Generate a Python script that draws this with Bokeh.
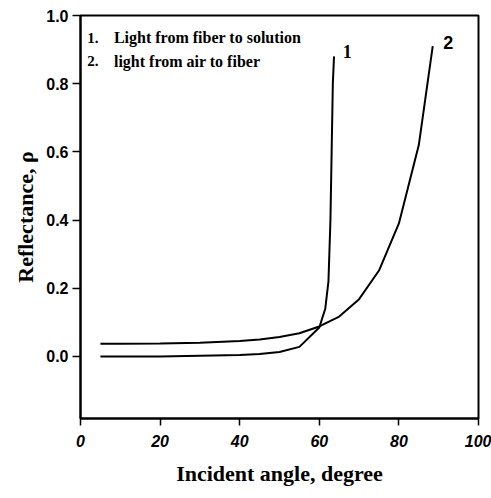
from bokeh.plotting import figure
from bokeh.models import Range1d, FixedTicker
from bokeh.core.properties import value
from bokeh.embed import file_html
from bokeh.resources import INLINE

# Curve 1: light from fiber to solution
angle_1 = [5, 10, 20, 30, 40, 45, 50, 55, 60, 61.5, 62.3, 62.8, 63.1, 63.4, 63.7]
refl_1 = [0.0, 0.0, 0.0, 0.002, 0.004, 0.007, 0.013, 0.028, 0.085, 0.14, 0.22, 0.40, 0.60, 0.80, 0.88]

# Curve 2: light from air to fiber
angle_2 = [5, 10, 20, 30, 40, 45, 50, 55, 60, 65, 70, 75, 80, 85, 88.5]
refl_2 = [0.037, 0.037, 0.038, 0.040, 0.045, 0.050, 0.057, 0.068, 0.088, 0.117, 0.168, 0.252, 0.39, 0.62, 0.91]

x_ticks = [0, 20, 40, 60, 80, 100]
y_ticks = [0.0, 0.2, 0.4, 0.6, 0.8, 1.0]

legend_nums = ["1.", "2."]
legend_texts = ["Light from fiber to solution", "light from air to fiber"]
legend_x_num = [1.7, 1.7]
legend_x_txt = [8.4, 8.4]
legend_y = [0.935, 0.866]

curve_labels = ["1", "2"]
curve_label_x = [67.0, 92.4]
curve_label_y = [0.893, 0.922]

p = figure(width=491, height=498, output_backend="svg", toolbar_location=None,
           x_range=Range1d(0, 100), y_range=Range1d(-0.182, 1.0),
           min_border_left=80, min_border_right=13, min_border_top=15, min_border_bottom=80)
p.background_fill_color = "white"
p.border_fill_color = "white"
p.outline_line_color = "black"
p.outline_line_width = 2
p.grid.visible = False

p.line(angle_1, refl_1, line_color="black", line_width=2)
p.line(angle_2, refl_2, line_color="black", line_width=2)

serif = value("Liberation Serif")
p.text(x=legend_x_num, y=legend_y, text=legend_nums, text_font=serif, text_font_size="15px",
       text_font_style="bold", text_baseline="middle", text_align="left", text_color="black")
p.text(x=legend_x_txt, y=legend_y, text=legend_texts, text_font=serif, text_font_size="16px",
       text_font_style="bold", text_baseline="middle", text_align="left", text_color="black")
p.text(x=curve_label_x[:1], y=curve_label_y[:1], text=curve_labels[:1], text_font=serif,
       text_font_size="18px", text_font_style="bold", text_baseline="middle", text_align="center",
       text_color="black")
p.text(x=curve_label_x[1:], y=curve_label_y[1:], text=curve_labels[1:], text_font=value("Liberation Sans"),
       text_font_size="18px", text_font_style="bold", text_baseline="middle", text_align="center",
       text_color="black")

for ax in (p.xaxis[0], p.yaxis[0]):
    ax.axis_line_color = "black"
    ax.axis_line_width = 2
    ax.major_tick_line_color = "black"
    ax.major_tick_line_width = 1.5
    ax.major_tick_in = 0
    ax.minor_tick_line_color = None
    ax.major_label_text_font = "Liberation Sans"
    ax.major_label_text_font_size = "16px"
    ax.major_label_text_color = "black"
    ax.axis_label_text_font = "Liberation Serif"
    ax.axis_label_text_font_size = "22px"
    ax.axis_label_text_font_style = "bold"
    ax.axis_label_text_color = "black"

p.xaxis.ticker = FixedTicker(ticks=x_ticks)
p.yaxis.ticker = FixedTicker(ticks=y_ticks)
p.yaxis.major_label_overrides = {t: f"{t:.1f}" for t in y_ticks}
p.xaxis.major_label_text_font_style = "bold italic"
p.yaxis.major_label_text_font_style = "bold"
p.xaxis.major_tick_out = 7
p.yaxis.major_tick_out = 8
p.xaxis.major_label_standoff = 9
p.yaxis.major_label_standoff = 4
p.xaxis.axis_label = "Incident angle, degree"
p.yaxis.axis_label = "Reflectance, \u03c1"
p.xaxis.axis_label_standoff = 11
p.yaxis.axis_label_standoff = 5

open("out.html", "w").write(file_html(p, INLINE))
